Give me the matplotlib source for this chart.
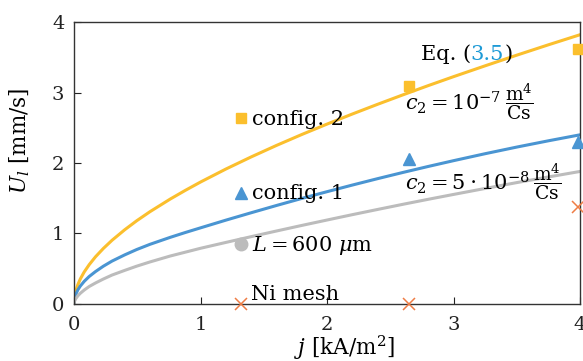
import numpy as np
import matplotlib
matplotlib.use("Agg")
import matplotlib.pyplot as plt

plt.rcParams['font.family'] = ['DejaVu Serif']
plt.rcParams['mathtext.fontset'] = 'dejavuserif'

# model curves (Eq. 3.5)
j_fit = [0, 0.005, 0.015, 0.03, 0.05, 0.08, 0.12, 0.17, 0.232, 0.3, 0.4, 0.495, 0.6, 0.76, 0.88,
         1.0, 1.2, 1.4, 1.6, 1.8, 2.0, 2.2, 2.4, 2.6, 2.8, 3.0, 3.25, 3.5, 3.75, 4.0]
u_conf2 = [0, 0.11, 0.192, 0.274, 0.356, 0.453, 0.558, 0.67, 0.788, 0.903, 1.052, 1.18, 1.309, 1.488, 1.612,
           1.73, 1.914, 2.086, 2.249, 2.404, 2.552, 2.695, 2.833, 2.967, 3.098, 3.225, 3.379, 3.53, 3.677, 3.82]
u_conf1 = [0, 0.085, 0.141, 0.20, 0.255, 0.32, 0.39, 0.46, 0.536, 0.608, 0.696, 0.772, 0.846, 0.945, 1.014,
           1.08, 1.189, 1.294, 1.397, 1.497, 1.593, 1.687, 1.778, 1.866, 1.951, 2.033, 2.132, 2.226, 2.315, 2.40]
u_L600 = [0, 0.043, 0.078, 0.115, 0.152, 0.197, 0.248, 0.298, 0.354, 0.41, 0.476, 0.536, 0.596, 0.68, 0.735,
          0.79, 0.873, 0.955, 1.035, 1.114, 1.191, 1.267, 1.341, 1.414, 1.485, 1.554, 1.639, 1.722, 1.802, 1.88]

# measurements
j_meas = [1.32, 2.65, 3.98]
m_conf2 = [2.64, 3.09, 3.62]
m_conf1 = [1.57, 2.06, 2.30]
m_L600 = [0.85]
m_ni = [0.0, 0.0, 1.38]

yellow = '#fbbf2d'
blue = '#4a95d2'
gray = '#bcbcbc'
orange = '#ef7d45'

fig = plt.figure(figsize=(5.83, 3.61), dpi=100)
ax = fig.add_axes([0.127, 0.158, 0.868, 0.781])

ax.plot(j_fit, u_conf2, color=yellow, lw=2.2)
ax.plot(j_fit, u_conf1, color=blue, lw=2.2)
ax.plot(j_fit, u_L600, color=gray, lw=2.2)

ax.plot(j_meas, m_conf2, 's', color=yellow, ms=7, clip_on=False, zorder=5)
ax.plot(j_meas, m_conf1, '^', color=blue, ms=9, clip_on=False, zorder=5)
ax.plot(j_meas[:1], m_L600, 'o', color=gray, ms=9, clip_on=False, zorder=5)
ax.plot(j_meas, m_ni, 'x', color=orange, ms=9, mew=1.1, clip_on=False, zorder=5)

fs = 15
ax.text(1.405, 2.545, 'config. 2', fontsize=fs, va='baseline')
ax.text(1.405, 1.49, 'config. 1', fontsize=fs, va='baseline')
ax.text(1.405, 0.75, r'$L = 600\ \mu$m', fontsize=fs, va='baseline')
ax.text(1.395, 0.057, 'Ni mesh', fontsize=fs, va='baseline')

fig.canvas.draw()
r = fig.canvas.get_renderer()

# c2 labels with a separate fraction
for xx, yy, ybar, s in [(2.62, 2.75, 2.86, r'$c_2 = 10^{-7}$'),
                        (2.62, 1.617, 1.73, r'$c_2 = 5\cdot 10^{-8}$')]:
    t = ax.text(xx, yy, s, fontsize=fs, va='baseline')
    w = t.get_window_extent(r).width
    ax.annotate(r'$\dfrac{\mathrm{m}^4}{\mathrm{Cs}}$', xy=(xx, ybar), xytext=(w + 3, 0),
                textcoords='offset pixels', fontsize=13.5, va='center')

# "Eq. (3.5)" with blue reference number
t1 = ax.text(2.74, 3.46, 'Eq. (', fontsize=fs, va='baseline')
w1 = t1.get_window_extent(r).width
t2 = ax.annotate('3.5', xy=(2.74, 3.46), xytext=(w1, 0), textcoords='offset pixels',
                 fontsize=fs, va='baseline', color='#1d9ad6')
w2 = t2.get_window_extent(r).width
ax.annotate(')', xy=(2.74, 3.46), xytext=(w1 + w2, 0), textcoords='offset pixels',
            fontsize=fs, va='baseline')

ax.set_xlim(0, 4)
ax.set_ylim(0, 4)
ax.set_xticks([0, 1, 2, 3, 4])
ax.set_yticks([0, 1, 2, 3, 4])
ax.tick_params(direction='in', length=5, labelsize=14, colors='#222222')
ax.tick_params(axis='x', pad=9)
ax.tick_params(axis='y', pad=7)
for s in ax.spines.values():
    s.set_color('#333333')
    s.set_linewidth(1.0)

ax.set_xlabel(r'$j$ [kA/m$^2$]', fontsize=15.5)
ax.set_ylabel(r'$U_l$ [mm/s]', fontsize=15.5)
ax.xaxis.set_label_coords(0.534, -0.105)
ax.yaxis.set_label_coords(-0.083, 0.58)

fig.savefig('out.png', dpi=100)
